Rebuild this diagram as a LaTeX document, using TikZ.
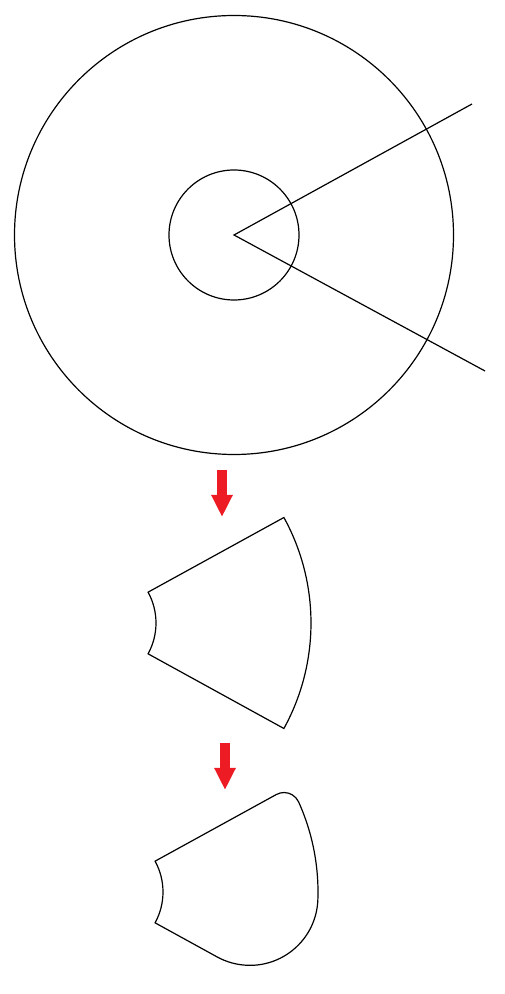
\documentclass[tikz,border=0pt]{standalone}
\usetikzlibrary{arrows.meta,calc}
\definecolor{arrowred}{HTML}{ED1C24}
\tikzset{
  outline/.style={draw=black, line width=1.2pt, line join=miter},
  bigarrow/.style={draw=arrowred, line width=10pt, -{Triangle[width=20pt,length=22pt]}, shorten >=0pt}
}
\begin{document}
\begin{tikzpicture}[x=1pt,y=1pt]
\useasboundingbox (0,0) rectangle (504,994);
\def\alp{28.8}
% --- disc with hole and cutting rays ---
\coordinate (O1) at (234,759);
\draw[outline] (O1) circle[radius=219.5];
\draw[outline] (O1) circle[radius=65];
\coordinate (ray1) at (472,890);
\coordinate (ray2) at (485,623);
\draw[outline] (ray1) -- (O1) -- (ray2);
% --- arrows ---
\coordinate (a1s) at (222,524);
\coordinate (a1e) at (222,477);
\draw[bigarrow] (a1s) -- (a1e);
\coordinate (a2s) at (225,251);
\coordinate (a2e) at (225,204);
\draw[bigarrow] (a2s) -- (a2e);
% --- annular sector ---
\coordinate (O2) at (92,371);
\draw[outline] ($(O2)+(\alp:64)$) -- ($(O2)+(\alp:219)$)
  arc[start angle=\alp, end angle=-\alp, radius=219]
  -- ($(O2)+(-\alp:64)$)
  arc[start angle=-\alp, end angle=\alp, radius=64] -- cycle;
% --- rounded sector ---
\coordinate (O3) at (99,102);
\pgfmathsetmacro{\myrt}{16}
\pgfmathsetmacro{\myrb}{68}
\pgfmathsetmacro{\mytlt}{219*sqrt(1-2*\myrt/219)}
\pgfmathsetmacro{\mytlb}{219*sqrt(1-2*\myrb/219)}
\pgfmathsetmacro{\mybt}{\alp-atan(\myrt/\mytlt)}
\pgfmathsetmacro{\mybb}{\alp-atan(\myrb/\mytlb)}
\draw[outline] ($(O3)+(\alp:64)$) -- ($(O3)+(\alp:\mytlt)$)
  arc[start angle=\alp+90, end angle=\mybt, radius=\myrt]
  arc[start angle=\mybt, end angle=-\mybb, radius=219]
  arc[start angle=-\mybb, end angle=-\alp-90, radius=\myrb]
  -- ($(O3)+(-\alp:64)$)
  arc[start angle=-\alp, end angle=\alp, radius=64] -- cycle;
\end{tikzpicture}
\end{document}
